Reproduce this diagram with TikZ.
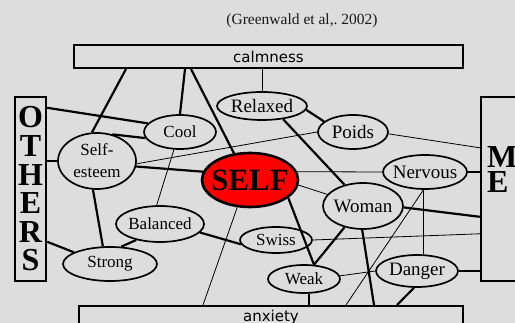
\documentclass[tikz,border=0pt]{standalone}
\usepackage{fontspec}
\setmainfont{Liberation Serif}
\newfontfamily\bandfont{DejaVu Sans}
\usetikzlibrary{shapes.geometric,calc}
\definecolor{bg}{RGB}{221,221,221}
\definecolor{selfred}{RGB}{255,0,0}
\definecolor{ink}{RGB}{25,25,25}
% label text that does not widen its ellipse
\newcommand{\tag}[1]{\makebox[0pt]{#1}}
\frenchspacing

\begin{document}
\begin{tikzpicture}[x=1pt,y=-1pt,
  concept/.style={ellipse,draw,line width=1.7pt,inner sep=0pt,
    font=\fontsize{17}{20}\selectfont},
  big/.style={font=\fontsize{19}{22}\selectfont},
  band/.style={draw,line width=2pt,inner sep=0pt,
    font=\bandfont\fontsize{15}{18}\selectfont},
  pole/.style={draw,line width=2.4pt,inner sep=0pt},
  heavy/.style={line width=2.2pt},
  mid/.style={line width=1.3pt},
  light/.style={line width=0.8pt},
]
\useasboundingbox (0,0) rectangle (515,323);
\clip (0,0) rectangle (515,323);
\fill[bg] (0,0) rectangle (515,323);

% reference line
\node[font=\fontsize{15.5}{18}\selectfont,text=ink] (cite) at (302,21) {(Greenwald et al,. 2002)};

% bands and poles
\node[band,minimum width=389,minimum height=23] (calm) at (268.5,56.5) {calmness};
\node[band,minimum width=384,minimum height=22,anchor=north] (anx) at (271,305) {anxiety};
\node[pole,minimum width=31,minimum height=184,align=center,
  font=\bfseries\fontsize{32}{28.6}\selectfont] (others) at (30.5,189) {O\\T\\H\\E\\R\\S};
\node[pole,minimum width=54,minimum height=184] (me) at (508,189) {};
\node[anchor=west,inner sep=0pt,align=left,
  font=\bfseries\fontsize{32}{25}\selectfont] (melabel) at (487,170) {M\\E};

% concepts
\node[concept,big,minimum width=90,minimum height=28] (relaxed) at (262,106) {\tag{Relaxed}};
\node[concept,minimum width=72,minimum height=34] (cool) at (180,132) {\tag{Cool}};
\node[concept,minimum width=78,minimum height=56,align=center,
  font=\fontsize{17}{22}\selectfont] (esteem) at (97,161) {Self-\\esteem};
\node[concept,fill=selfred,line width=2.6pt,minimum width=96,minimum height=54,
  font=\bfseries\fontsize{31}{31}\selectfont] (self) at (250,180) {\tag{SELF}};
\node[concept,big,minimum width=70,minimum height=34] (poids) at (353,132) {\tag{Poids}};
\node[concept,big,minimum width=84,minimum height=34] (nervous) at (425,172) {\tag{Nervous}};
\node[concept,big,minimum width=80,minimum height=46] (woman) at (363,206) {\tag{Woman}};
\node[concept,minimum width=88,minimum height=36] (balanced) at (160,224) {\tag{Balanced}};
\node[concept,minimum width=94,minimum height=34] (strong) at (110,264) {\tag{Strong}};
\node[concept,minimum width=72,minimum height=26] (swiss) at (276,240) {\tag{Swiss}};
\node[concept,minimum width=72,minimum height=28] (weak) at (304,279) {\tag{Weak}};
\node[concept,big,minimum width=82,minimum height=32] (danger) at (417,271) {\tag{Danger}};

% links to calmness
\draw[heavy] ($(calm.south west)+(53,0)$) -- (esteem.100);
\draw[heavy] ($(calm.south west)+(112,0)$) -- (cool.north);
\draw[heavy] ($(calm.south west)+(118,0)$) -- (self.121);
\draw[light] (relaxed.north) -- (relaxed.north |- calm.south);

% links to OTHERS
\draw[heavy] ($(others.north east)+(0,12)$) -- (cool.165);
\draw[heavy] (esteem.west) -- (esteem.west -| others.east);
\draw[heavy] ($(others.north east)+(0,146)$) -- (strong.162);

% links among concepts
\draw[heavy] (esteem.60) -- (cool.190);
\draw[heavy] (esteem.-8) -- (self.170);
\draw[light] (esteem.-4) -- (poids.west);
\draw[heavy] (esteem.-98) -- (strong.112);
\draw[light] (cool.-109) -- (balanced.100);
\draw[heavy] (balanced.214) -- (strong.57);
\draw[heavy] (balanced.-12) -- (swiss.187);
\draw[light] (self.10) -- (nervous.west);
\draw[light] (self.-6) -- (woman.162);
\draw[heavy] (self.-25) -- (weak.55);
\draw[heavy] (relaxed.-5) -- (poids.160);
\draw[heavy] (relaxed.-32) -- (woman.131);
\draw[heavy] (woman.229) -- (weak.55);
\draw[light] (weak.5) -- (danger.west);
\draw[light] (nervous.-95) -- (nervous.-95 |- danger.north);

% links to ME
\draw[light] (poids.-3) -- ($(me.north west)+(0,52)$);
\draw[mid] (nervous.east) -- (nervous.east -| me.west);
\draw[heavy] (woman.-2) -- ($(me.north west)+(0,121)$);
\draw[light] (swiss.east) -- ($(me.north west)+(0,138)$);
\draw[heavy] (danger.east) -- (danger.east -| me.west);

% links to anxiety
\draw[light] (self.-115) -- ($(anx.north west)+(125,0)$);
\draw[light] (nervous.-95) -- ($(anx.north west)+(268,0)$);
\draw[heavy] (woman.-92) -- ($(anx.north west)+(296,0)$);
\draw[heavy] (weak.-70) -- (weak.-70 |- anx.north);
\draw[heavy] (danger.-100) -- ($(anx.north west)+(319,0)$);
\end{tikzpicture}
\end{document}
